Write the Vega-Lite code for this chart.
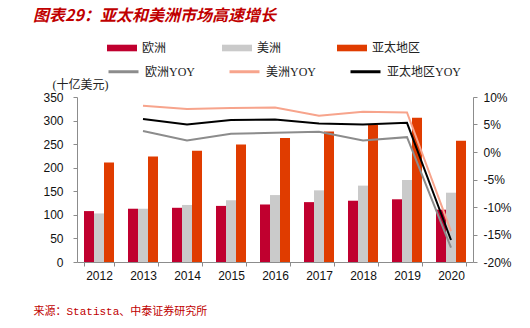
{
  "$schema": "https://vega.github.io/schema/vega-lite/v6.json",
  "width": 396,
  "height": 165,
  "autosize": {"type": "none"},
  "padding": {"left": 77, "top": 97, "right": 57, "bottom": 66},
  "background": "white",
  "config": {
    "view": {"stroke": null},
    "axis": {
      "domainColor": "#8c8c8c",
      "tickColor": "#8c8c8c",
      "tickSize": 4,
      "labelFont": "Liberation Sans",
      "labelFontSize": 12,
      "labelColor": "#111111",
      "grid": false
    }
  },
  "title": {
    "text": "图表29：亚太和美洲市场高速增长",
    "color": "#C00000",
    "font": "Noto Sans CJK SC",
    "fontSize": 16,
    "fontStyle": "italic",
    "fontWeight": "bold",
    "anchor": "start",
    "frame": "group",
    "dx": -44,
    "offset": 9
  },
  "datasets": {
    "sales": [
      {"year": "2012", "region": "欧洲", "value": 108},
      {"year": "2012", "region": "美洲", "value": 103},
      {"year": "2012", "region": "亚太地区", "value": 211},
      {"year": "2013", "region": "欧洲", "value": 113},
      {"year": "2013", "region": "美洲", "value": 113},
      {"year": "2013", "region": "亚太地区", "value": 224},
      {"year": "2014", "region": "欧洲", "value": 115},
      {"year": "2014", "region": "美洲", "value": 121},
      {"year": "2014", "region": "亚太地区", "value": 236},
      {"year": "2015", "region": "欧洲", "value": 119},
      {"year": "2015", "region": "美洲", "value": 131},
      {"year": "2015", "region": "亚太地区", "value": 249},
      {"year": "2016", "region": "欧洲", "value": 122},
      {"year": "2016", "region": "美洲", "value": 142},
      {"year": "2016", "region": "亚太地区", "value": 263},
      {"year": "2017", "region": "欧洲", "value": 127},
      {"year": "2017", "region": "美洲", "value": 152},
      {"year": "2017", "region": "亚太地区", "value": 277},
      {"year": "2018", "region": "欧洲", "value": 130},
      {"year": "2018", "region": "美洲", "value": 162},
      {"year": "2018", "region": "亚太地区", "value": 291},
      {"year": "2019", "region": "欧洲", "value": 133},
      {"year": "2019", "region": "美洲", "value": 174},
      {"year": "2019", "region": "亚太地区", "value": 306},
      {"year": "2020", "region": "欧洲", "value": 111},
      {"year": "2020", "region": "美洲", "value": 147},
      {"year": "2020", "region": "亚太地区", "value": 257}
    ],
    "yoy": [
      {"year": "2013", "series": "欧洲YOY", "yoy": 3.8},
      {"year": "2014", "series": "欧洲YOY", "yoy": 2.1},
      {"year": "2015", "series": "欧洲YOY", "yoy": 3.3},
      {"year": "2016", "series": "欧洲YOY", "yoy": 3.5},
      {"year": "2017", "series": "欧洲YOY", "yoy": 3.7},
      {"year": "2018", "series": "欧洲YOY", "yoy": 2.1},
      {"year": "2019", "series": "欧洲YOY", "yoy": 2.7},
      {"year": "2020", "series": "欧洲YOY", "yoy": -17.4},
      {"year": "2013", "series": "美洲YOY", "yoy": 8.4},
      {"year": "2014", "series": "美洲YOY", "yoy": 7.8},
      {"year": "2015", "series": "美洲YOY", "yoy": 8.0},
      {"year": "2016", "series": "美洲YOY", "yoy": 8.1},
      {"year": "2017", "series": "美洲YOY", "yoy": 6.6},
      {"year": "2018", "series": "美洲YOY", "yoy": 7.3},
      {"year": "2019", "series": "美洲YOY", "yoy": 7.2},
      {"year": "2020", "series": "美洲YOY", "yoy": -14.4},
      {"year": "2013", "series": "亚太地区YOY", "yoy": 6.0},
      {"year": "2014", "series": "亚太地区YOY", "yoy": 5.0},
      {"year": "2015", "series": "亚太地区YOY", "yoy": 5.8},
      {"year": "2016", "series": "亚太地区YOY", "yoy": 5.9},
      {"year": "2017", "series": "亚太地区YOY", "yoy": 5.2},
      {"year": "2018", "series": "亚太地区YOY", "yoy": 5.0},
      {"year": "2019", "series": "亚太地区YOY", "yoy": 5.3},
      {"year": "2020", "series": "亚太地区YOY", "yoy": -16.0}
    ]
  },
  "layer": [
    {
      "data": {"name": "sales"},
      "mark": {"type": "bar"},
      "encoding": {
        "x": {
          "field": "year",
          "type": "ordinal",
          "scale": {"paddingInner": 0.318, "paddingOuter": 0.159},
          "axis": {
            "labelAngle": 0,
            "tickBand": "extent",
            "labelPadding": 4,
            "title": "来源：Statista、中泰证券研究所",
            "titleColor": "#C00000",
            "titleFont": "Liberation Mono, Noto Sans CJK SC",
            "titleFontSize": 11,
            "titleFontWeight": "normal",
            "titleX": -44,
            "titleY": 49,
            "titleAlign": "left",
            "titleBaseline": "middle",
            "titleAnchor": null
          }
        },
        "xOffset": {
          "field": "region",
          "type": "nominal",
          "sort": ["欧洲", "美洲", "亚太地区"],
          "scale": {"paddingInner": 0, "paddingOuter": 0}
        },
        "y": {
          "field": "value",
          "type": "quantitative",
          "scale": {"domain": [0, 350]},
          "axis": {
            "values": [0, 50, 100, 150, 200, 250, 300, 350],
            "labelPadding": 10,
            "title": "(十亿美元)",
            "titleAngle": 0,
            "titleFont": "Liberation Serif, Noto Sans CJK SC",
            "titleFontSize": 12,
            "titleFontWeight": "normal",
            "titleColor": "#222222",
            "titleX": -25,
            "titleY": -13,
            "titleAlign": "left",
            "titleBaseline": "middle"
          }
        },
        "fill": {
          "field": "region",
          "type": "nominal",
          "scale": {
            "domain": ["欧洲", "美洲", "亚太地区"],
            "range": ["#C0002F", "#CACACA", "#E03C00"]
          },
          "legend": {
            "title": null,
            "orient": "none",
            "direction": "horizontal",
            "columns": 3,
            "legendX": 30,
            "legendY": -64,
            "padding": 0,
            "symbolType": "M-1,-0.22L1,-0.22L1,0.22L-1,0.22Z",
            "symbolSize": 900,
            "symbolStrokeWidth": 0,
            "labelOffset": 5,
            "columnPadding": 55,
            "labelFont": "Liberation Serif, Noto Sans CJK SC",
            "labelFontSize": 12,
            "labelColor": "#222222"
          }
        }
      }
    },
    {
      "data": {"name": "yoy"},
      "mark": {"type": "line", "strokeWidth": 2},
      "encoding": {
        "x": {"field": "year", "type": "ordinal"},
        "y": {
          "field": "yoy",
          "type": "quantitative",
          "scale": {"domain": [-20, 10]},
          "axis": {
            "orient": "right",
            "values": [-20, -15, -10, -5, 0, 5, 10],
            "labelExpr": "datum.value + '%'",
            "labelPadding": 6,
            "title": null
          }
        },
        "stroke": {
          "field": "series",
          "type": "nominal",
          "scale": {
            "domain": ["欧洲YOY", "美洲YOY", "亚太地区YOY"],
            "range": ["#8C8C8C", "#F7A48C", "#000000"]
          },
          "legend": {
            "title": null,
            "orient": "none",
            "direction": "horizontal",
            "columns": 3,
            "legendX": 30,
            "legendY": -42,
            "padding": 0,
            "symbolType": "stroke",
            "symbolSize": 900,
            "symbolStrokeWidth": 3,
            "labelOffset": 5,
            "columnPadding": 28,
            "labelFont": "Liberation Serif, Noto Sans CJK SC",
            "labelFontSize": 12,
            "labelColor": "#222222"
          }
        }
      }
    }
  ],
  "resolve": {"scale": {"y": "independent"}}
}
